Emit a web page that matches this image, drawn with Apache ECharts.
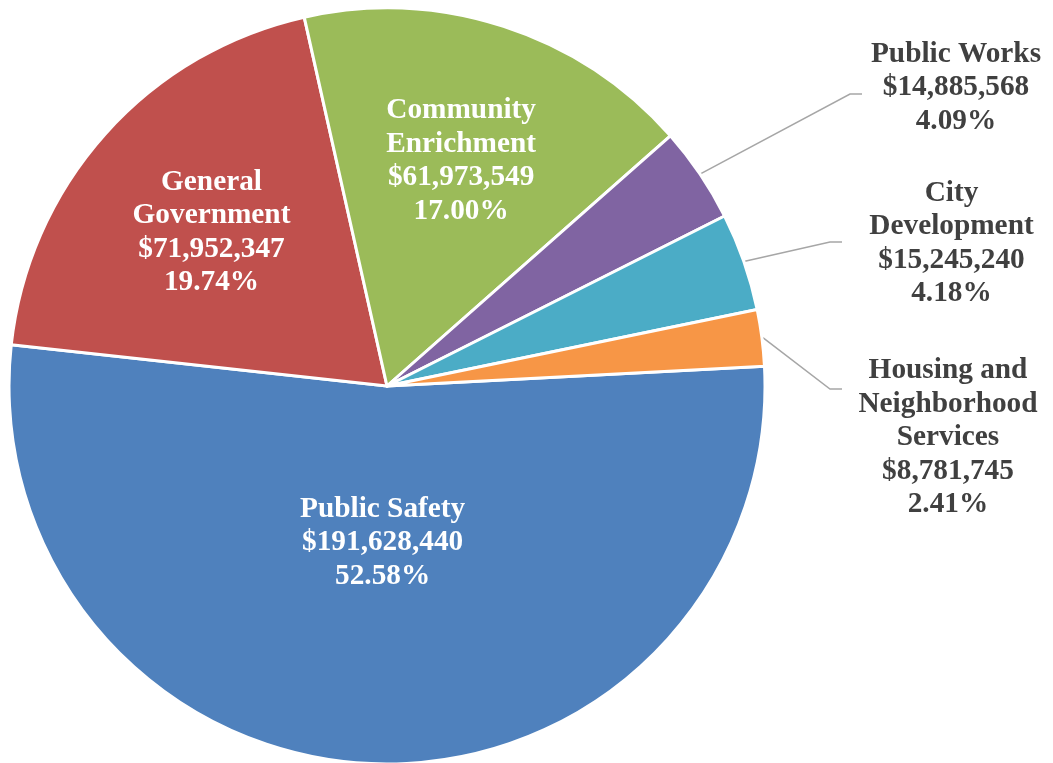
<!DOCTYPE html>
<html>
<head>
<meta charset="utf-8">
<script src="https://cdn.jsdelivr.net/npm/echarts@6/dist/echarts.min.js"></script>
<style>
  html, body { margin: 0; padding: 0; background: #ffffff; }
  #chart { width: 1053px; height: 763px; }
</style>
</head>
<body>
<div id="chart"></div>
<script>
// Budget by service area
const categories = [
  'Public Safety',
  'General\nGovernment',
  'Community\nEnrichment',
  'Public Works',
  'City\nDevelopment',
  'Housing and\nNeighborhood\nServices'
];
const budget = [191628440, 71952347, 61973549, 14885568, 15245240, 8781745];
const sliceColors = ['#4F81BD', '#C0504D', '#9BBB59', '#8064A2', '#4BACC6', '#F79646'];

// Geometry of the pie (pixels / degrees)
const PIE_CENTER = [387, 386];
const PIE_RADIUS = 378;
const START_ANGLE = 3;
// Vertical nudge so the glyphs' visual centre lands on the anchor
const TEXT_NUDGE = 3.5;

// Labels inside the large slices sit at this fraction of the radius
const insideLabelRadius = { 0: 0.405, 1: 0.623, 2: 0.636 };
// Labels for the small slices sit to the right with a leader line
const outsideLabels = {
  3: { x: 956, y: 84, endX: 862, endY: 94 },
  4: { x: 951.5, y: 240, endX: 842, endY: 242 },
  5: { x: 948, y: 434, endX: 842, endY: 389 }
};

const total = budget.reduce((a, b) => a + b, 0);
const midAngles = [];
(function () {
  let cum = 0;
  budget.forEach(function (v) {
    midAngles.push(START_ANGLE - 360 * (cum + v / 2) / total);
    cum += v;
  });
})();

function money(v) {
  return '$' + v.toLocaleString('en-US');
}

const FONT = "'Liberation Serif', 'Times New Roman', serif";

const data = budget.map(function (v, i) {
  const inside = insideLabelRadius[i] !== undefined;
  return {
    name: categories[i],
    value: v,
    itemStyle: { color: sliceColors[i] },
    label: {
      position: inside ? 'inside' : 'outside',
      color: inside ? '#ffffff' : '#404040'
    },
    labelLine: { show: !inside }
  };
});

const chart = echarts.init(document.getElementById('chart'), null, { renderer: 'canvas' });

chart.setOption({
  backgroundColor: '#ffffff',
  animation: false,
  series: [{
    type: 'pie',
    center: PIE_CENTER,
    radius: PIE_RADIUS,
    startAngle: START_ANGLE,
    clockwise: true,
    avoidLabelOverlap: false,
    silent: true,
    itemStyle: { borderColor: '#ffffff', borderWidth: 3 },
    label: {
      show: true,
      fontFamily: FONT,
      fontWeight: 'bold',
      fontSize: 29.3,
      lineHeight: 33.5,
      align: 'center',
      overflow: 'none',
      formatter: function (p) {
        return p.name + '\n' + money(p.value) + '\n' + p.percent.toFixed(2) + '%';
      }
    },
    labelLine: {
      length: 20,
      length2: 20,
      smooth: false,
      lineStyle: { color: '#A6A6A6', width: 1.5 }
    },
    labelLayout: function (params) {
      const i = params.dataIndex;
      const a = midAngles[i] * Math.PI / 180;
      const cx = PIE_CENTER[0], cy = PIE_CENTER[1];
      if (insideLabelRadius[i] !== undefined) {
        const r = insideLabelRadius[i] * PIE_RADIUS;
        return {
          x: cx + r * Math.cos(a),
          y: cy - r * Math.sin(a) + TEXT_NUDGE,
          align: 'center',
          verticalAlign: 'middle'
        };
      }
      const o = outsideLabels[i];
      const sx = cx + (PIE_RADIUS + 1) * Math.cos(a);
      const sy = cy - (PIE_RADIUS + 1) * Math.sin(a);
      return {
        x: o.x,
        y: o.y + TEXT_NUDGE,
        align: 'center',
        verticalAlign: 'middle',
        labelLinePoints: [[sx, sy], [o.endX - 12, o.endY], [o.endX, o.endY]]
      };
    },
    data: data
  }]
});
</script>
</body>
</html>
